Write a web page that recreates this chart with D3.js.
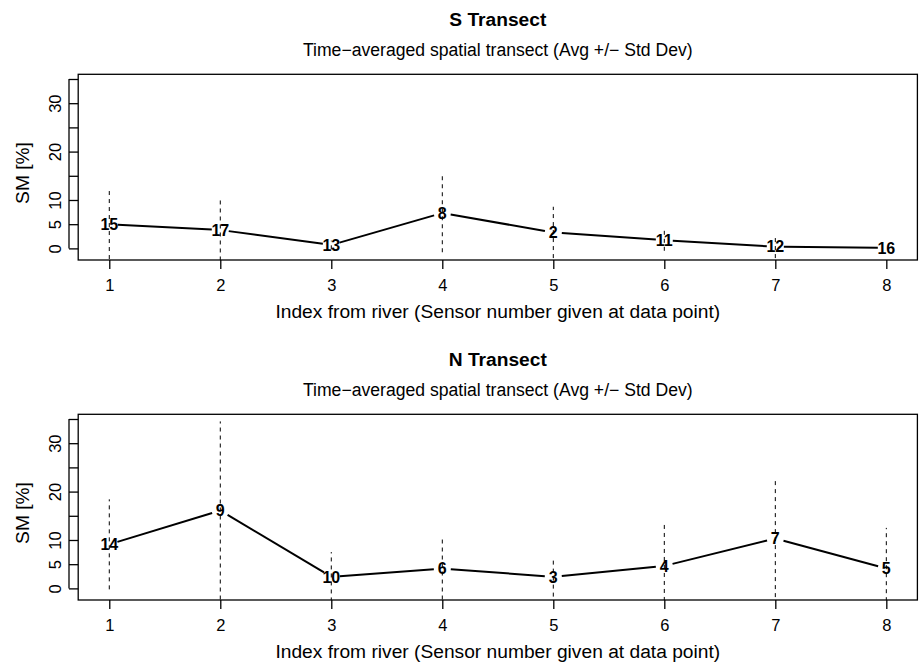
<!DOCTYPE html>
<html>
<head>
<meta charset="utf-8">
<script src="https://cdn.jsdelivr.net/npm/d3@7"></script>
<style>
  html, body { margin: 0; padding: 0; background: #fff; }
  svg { display: block; font-family: "Liberation Sans", Arial, Helvetica, sans-serif; }
</style>
</head>
<body>
<svg id="chart" width="920" height="663"></svg>
<script>
// ---- data ----
const xIndex = [1, 2, 3, 4, 5, 6, 7, 8];
const sSensors = [15, 17, 13, 8, 2, 11, 12, 16];
const sMean = [5.0, 3.8, 0.7, 7.3, 3.3, 1.7, 0.35, 0.12];
const sSd = [7.2, 6.3, 0.9, 8.1, 5.3, 2.2, 2.35, 0];
const nSensors = [14, 9, 10, 6, 3, 4, 7, 5];
const nMean = [9.1, 16.1, 2.4, 4.1, 2.4, 4.65, 10.3, 4.1];
const nSd = [9.3, 18.4, 5.1, 6.4, 4.1, 8.9, 12.1, 8.4];
const yTicks = [0, 5, 10, 15, 20, 25, 30, 35];
const yTickLabels = ["0", "5", "10", "", "20", "", "30", ""];
const xTicks = [1, 2, 3, 4, 5, 6, 7, 8];
const panelTitles = ["S Transect", "N Transect"];
const subTitle = "Time\u2212averaged spatial transect (Avg +/\u2212 Std Dev)";
const xLabel = "Index from river (Sensor number given at data point)";
const yLabel = "SM [%]";

const panels = [
  { title: panelTitles[0], sensors: sSensors, mean: sMean, sd: sSd },
  { title: panelTitles[1], sensors: nSensors, mean: nMean, sd: nSd }
];

const svg = d3.select("#chart");
const left = 78.2, right = 917.4;
const panelOffset = 340;
const boxTop = 74.3, boxBottom = 260;

const x = d3.scaleLinear().domain([0.72, 8.28]).range([left, right]);

panels.forEach((p, i) => {
  const oy = i * panelOffset;
  const y = d3.scaleLinear().domain([-2.4, 35.97]).range([boxBottom + oy, boxTop + oy]);
  const g = svg.append("g");
  const cx = (left + right) / 2;

  // titles
  g.append("text").attr("x", cx).attr("y", 25.5 + oy)
    .attr("text-anchor", "middle").attr("font-size", 19.2).attr("font-weight", "bold")
    .text(p.title);
  g.append("text").attr("x", cx).attr("y", 56 + oy)
    .attr("text-anchor", "middle").attr("font-size", 17.6)
    .text(subTitle);

  // clip
  const clipId = "clip" + i;
  g.append("clipPath").attr("id", clipId).append("rect")
    .attr("x", left).attr("y", boxTop + oy).attr("width", right - left).attr("height", boxBottom - boxTop);

  // error bars
  g.append("g").attr("clip-path", `url(#${clipId})`)
    .selectAll("line").data(xIndex.filter((d, k) => p.sd[k] > 0).map(d => d - 1))
    .join("line")
    .attr("x1", k => x(xIndex[k])).attr("x2", k => x(xIndex[k]))
    .attr("y1", k => y(p.mean[k] - p.sd[k])).attr("y2", k => y(p.mean[k] + p.sd[k]))
    .attr("stroke", "#000").attr("stroke-width", 1).attr("stroke-dasharray", "4,4");

  // line segments with gaps (type "b")
  const gap = 8.5;
  const segs = [];
  for (let k = 0; k < xIndex.length - 1; k++) {
    const x1 = x(xIndex[k]), y1 = y(p.mean[k]), x2 = x(xIndex[k + 1]), y2 = y(p.mean[k + 1]);
    const len = Math.hypot(x2 - x1, y2 - y1);
    const ux = (x2 - x1) / len, uy = (y2 - y1) / len;
    segs.push([x1 + ux * gap, y1 + uy * gap, x2 - ux * gap, y2 - uy * gap]);
  }
  g.append("g").selectAll("line").data(segs).join("line")
    .attr("x1", d => d[0]).attr("y1", d => d[1]).attr("x2", d => d[2]).attr("y2", d => d[3])
    .attr("stroke", "#000").attr("stroke-width", 2);

  // labels
  g.append("g").selectAll("text").data(xIndex.map((d, k) => k)).join("text")
    .attr("x", k => x(xIndex[k])).attr("y", k => y(p.mean[k]))
    .attr("dy", "0.36em").attr("text-anchor", "middle")
    .attr("font-size", 16).attr("font-weight", "bold")
    .text(k => p.sensors[k]);

  // box
  g.append("rect").attr("x", left).attr("y", boxTop + oy)
    .attr("width", right - left).attr("height", boxBottom - boxTop)
    .attr("fill", "none").attr("stroke", "#000").attr("stroke-width", 1.3);

  // x axis
  const xAxis = d3.axisBottom(x).tickValues(xTicks).tickFormat(d3.format("d"))
    .tickSize(9).tickPadding(0);
  const xg = g.append("g").attr("transform", `translate(0,${boxBottom + oy})`).call(xAxis);
  xg.select(".domain").remove();
  xg.selectAll(".tick line").attr("stroke-width", 1.3);
  xg.selectAll(".tick text").attr("font-size", 16.5).attr("font-family", null)
    .attr("y", 30.5).attr("dy", null);

  // y axis
  const yAxis = d3.axisLeft(y).tickValues(yTicks).tickFormat((d, k) => yTickLabels[k])
    .tickSize(9).tickPadding(0);
  const yg = g.append("g").attr("transform", `translate(${left - 9.2},0)`).call(yAxis);
  yg.select(".domain").attr("d", `M0,${y(0)}V${y(35)}`).attr("transform", null).attr("stroke-width", 1.3);
  yg.selectAll(".tick line").attr("x2", 9.2).attr("stroke-width", 1.3);
  yg.selectAll(".tick line").attr("x1", 0);
  yg.selectAll(".tick text").attr("font-size", 16.5).attr("font-family", null)
    .attr("x", null).attr("dy", null).attr("text-anchor", "middle")
    .attr("transform", "translate(-8.5,0) rotate(-90)");

  // axis titles
  g.append("text").attr("x", cx).attr("y", 318 + oy)
    .attr("text-anchor", "middle").attr("font-size", 19.2).text(xLabel);
  g.append("text")
    .attr("transform", `translate(29,${173 + oy}) rotate(-90)`)
    .attr("text-anchor", "middle").attr("font-size", 19.2).text(yLabel);
});
</script>
</body>
</html>
